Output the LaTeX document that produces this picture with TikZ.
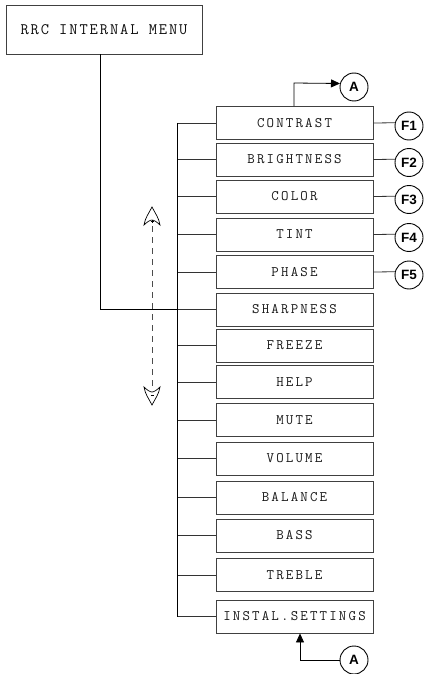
\documentclass[tikz,border=0pt]{standalone}
\usepackage{fontspec}
\setsansfont{Liberation Sans}
\newfontfamily\menufont[LetterSpace=15]{Latin Modern Mono}
\newfontfamily\titlefont[LetterSpace=12]{Latin Modern Mono}
\usetikzlibrary{arrows.meta}
\tikzset{
  menubox/.style={draw=black!75, line width=0.9pt, minimum width=157pt, minimum height=33pt,
    inner sep=0pt, font=\menufont\fontsize{14.5}{15}\selectfont, text=black!90},
  titlebox/.style={draw=black!75, line width=0.9pt, minimum width=196pt, minimum height=49pt,
    inner sep=0pt, font=\titlefont\fontsize{16}{17}\selectfont, text=black!95},
  fcirc/.style={draw=black, line width=0.9pt, circle, minimum size=28pt, inner sep=0pt,
    font=\sffamily\bfseries\fontsize{13.5}{14}\selectfont},
  bus/.style={draw=black, line width=0.8pt},
  branch/.style={draw=black!80, line width=0.8pt},
  arr/.style={draw=black, line width=0.8pt, -{Triangle[length=9pt,width=8pt]}},
}
\begin{document}
\begin{tikzpicture}[x=1pt,y=-1pt]
\useasboundingbox (0,0) rectangle (428,674);
% title
\node[titlebox] (title) at (104,29.5) {RRC INTERNAL MENU};
% menu boxes
\foreach \n/\y/\t in {b1/123/CONTRAST, b2/159.5/BRIGHTNESS, b3/196.5/COLOR, b4/234.5/TINT,
  b5/272/PHASE, b6/309.5/SHARPNESS, b7/345.5/FREEZE, b8/382/HELP, b9/420/MUTE,
  b10/458.5/VOLUME, b11/497.5/BALANCE, b12/535.5/BASS, b13/575/TREBLE, b14/616.5/INSTAL.SETTINGS}
  {\node[menubox] (\n) at (294.5,\y) {\t};}
% bus
\coordinate (bt) at (177.5,123);
\coordinate (bb) at (177.5,616.5);
\draw[bus] (bt) -- (bb);
\foreach \n in {b1,b2,b3,b4,b5,b6,b7,b8,b9,b10,b11,b12,b13,b14}
  \draw[branch] (\n.west) -- (\n.west -| bt);
% title to sharpness
\draw[bus] (title.south -| 100.5,0) |- (b6.west -| bt);
% F circles
\foreach \i/\y in {1/126,2/162.5,3/199.5,4/237.5,5/275}
  \node[fcirc] (f\i) at (409,\y) {F\i};
\foreach \i in {1,...,5}
  \draw[branch] (b\i.east) -- (f\i.167);
% A top
\node[fcirc] (atop) at (354,87) {A};
\coordinate (ct) at (294,83);
\draw[arr] (b1.north -| ct) -- (ct) -- (atop.166);
% A bottom
\node[fcirc] (abot) at (354,660) {A};
\coordinate (cb) at (300,660);
\draw[arr] (abot.west) -- (cb) -- (b14.south -| cb);
% dashed scroll arrow
\draw[black!70, line width=0.8pt, dash pattern=on 6pt off 5pt] (152,226) -- (152,386);
\draw[black, line width=0.7pt, fill=white] (152,207) .. controls (149,213) and (145,218) .. (144,225)
  .. controls (147,222) and (150,220) .. (152,220) .. controls (154,220) and (157,222) .. (160,225)
  .. controls (159,218) and (155,213) .. (152,207) -- cycle;
\draw[black, line width=0.4pt] (150.5,221.5) -- (153.5,221.5) (152,220) -- (152,223);
\draw[black, line width=0.7pt, fill=white] (152,405) .. controls (149,399) and (145,394) .. (144,387)
  .. controls (147,390) and (150,392) .. (152,392) .. controls (154,392) and (157,390) .. (160,387)
  .. controls (159,394) and (155,399) .. (152,405) -- cycle;
\draw[black, line width=0.4pt] (150.5,395) -- (153.5,395);
\end{tikzpicture}
\end{document}
